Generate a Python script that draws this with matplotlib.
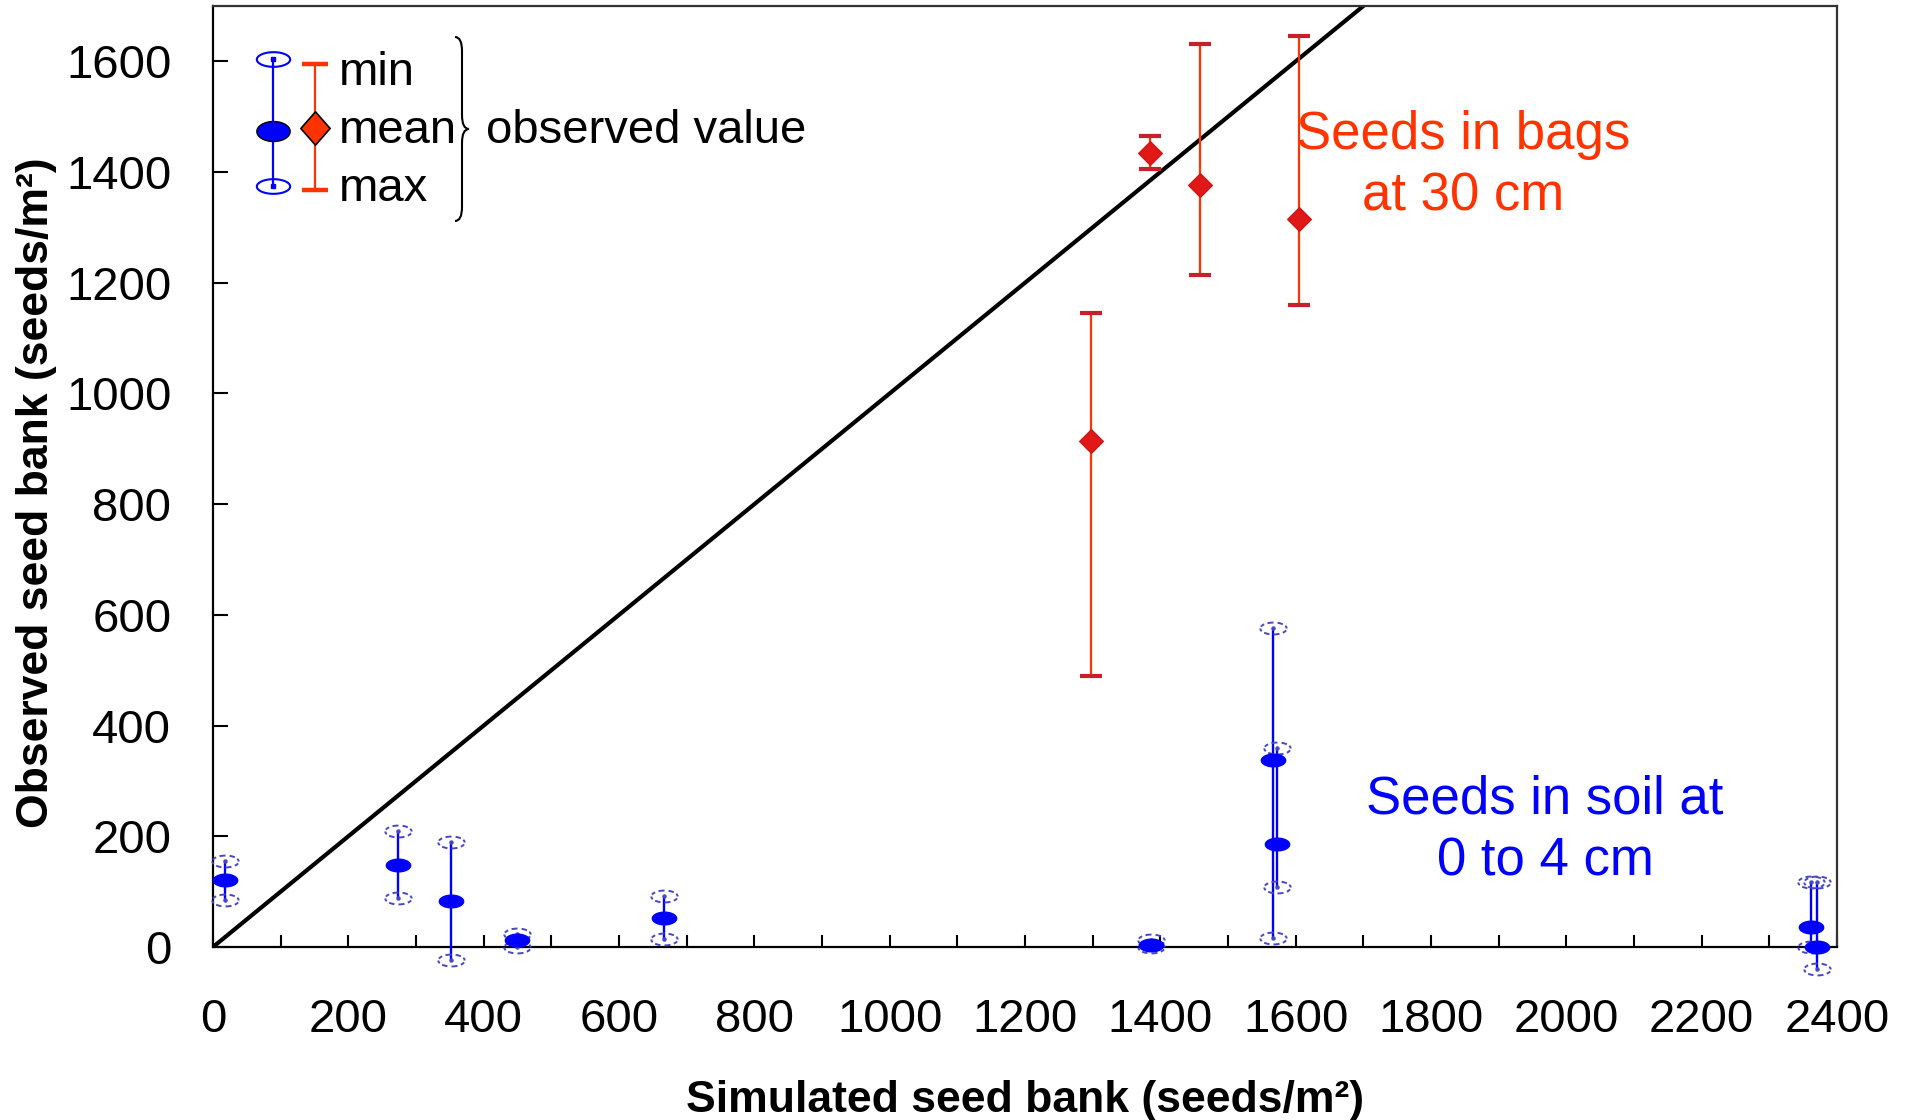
import numpy as np
import matplotlib
matplotlib.use("Agg")
import matplotlib.pyplot as plt
from matplotlib.path import Path
from matplotlib.lines import Line2D
from matplotlib.patches import PathPatch
from matplotlib.ticker import MultipleLocator

plt.rcParams['font.family'] = ['Liberation Sans', 'DejaVu Sans']

# ---- data ----
soil_x = [18, 273, 352, 449, 667, 1386, 1566, 1572, 2362, 2370]
soil_mean = [121, 148, 84, 12, 53, 4, 338, 186, 36, 0]
soil_min = [85, 88, -24, 0, 15, 0, 16, 108, 0, -40]
soil_max = [155, 209, 190, 24, 93, 12, 576, 360, 117, 117]

bag_x = [1298, 1384, 1458, 1605]
bag_mean = [915, 1435, 1377, 1316]
bag_min = [489, 1406, 1214, 1159]
bag_max = [1146, 1466, 1631, 1646]

x_ticks = [0, 200, 400, 600, 800, 1000, 1200, 1400, 1600, 1800, 2000, 2200, 2400]
y_ticks = [0, 200, 400, 600, 800, 1000, 1200, 1400, 1600]

BLUE = '#0000ff'
LBLUE = '#4646c8'
ORANGE = '#ff3300'
DRED = '#c8202a'


# ---- marker paths ----
def ellipse_path(ratio, n=64):
    t = np.linspace(0, 2 * np.pi, n)
    v = np.column_stack([np.cos(t), ratio * np.sin(t)])
    return Path(v, closed=True)


def dashed_ellipse_path(ratio, ndash=8, frac=0.6, n=8):
    verts, codes = [], []
    for k in range(ndash):
        t = np.linspace(2 * np.pi * k / ndash, 2 * np.pi * (k + frac) / ndash, n)
        for i, tt in enumerate(t):
            verts.append((np.cos(tt), ratio * np.sin(tt)))
            codes.append(Path.MOVETO if i == 0 else Path.LINETO)
    return Path(np.array(verts), codes)


def diamond_path(ratio):
    return Path([(0, 1), (ratio, 0), (0, -1), (-ratio, 0), (0, 1)], closed=True)


W, H = 1908, 1120
fig = plt.figure(figsize=(W / 100, H / 100), dpi=100)
ax = fig.add_axes([213 / W, 1 - 947 / H, 1624 / W, 941 / H])
ax.set_xlim(0, 2400)
ax.set_ylim(0, 1700)

# 1:1 line
ax.axline((0, 0), slope=1, color='black', lw=3.0, zorder=2)

# seeds in soil (blue)
ax.vlines(soil_x, soil_min, soil_max, color=BLUE, lw=1.7, zorder=3, clip_on=False)
ax.plot(soil_x, soil_min, ls='none', marker=dashed_ellipse_path(0.45), ms=19,
        mfc='none', mec=LBLUE, mew=1.4, zorder=3, clip_on=False)
ax.plot(soil_x, soil_max, ls='none', marker=dashed_ellipse_path(0.45), ms=19,
        mfc='none', mec=LBLUE, mew=1.4, zorder=3, clip_on=False)
ax.plot(soil_x, soil_min, ls='none', marker='o', ms=2.2, color=LBLUE, zorder=3, clip_on=False)
ax.plot(soil_x, soil_max, ls='none', marker='o', ms=2.2, color=LBLUE, zorder=3, clip_on=False)
ax.plot(soil_x, soil_mean, ls='none', marker=ellipse_path(0.52), ms=17.5,
        color=BLUE, mec=BLUE, zorder=4, clip_on=False)

# seeds in bags (red)
ax.vlines(bag_x, bag_min, bag_max, color=ORANGE, lw=1.6, zorder=3)
ax.plot(bag_x, bag_min, ls='none', marker='_', ms=16, mew=3, color=DRED, zorder=3)
ax.plot(bag_x, bag_max, ls='none', marker='_', ms=16, mew=3, color=DRED, zorder=3)
ax.plot(bag_x, bag_mean, ls='none', marker=diamond_path(1.0), ms=17,
        color='#e01818', mec='#d01515', zorder=4)

# annotations
ax.text(0.7697, 0.830, 'Seeds in bags\nat 30 cm', transform=ax.transAxes,
        ha='center', va='center', multialignment='center', fontsize=38,
        color=ORANGE, linespacing=1.3)
ax.text(0.8202, 0.124, 'Seeds in soil at\n0 to 4 cm', transform=ax.transAxes,
        ha='center', va='center', multialignment='center', fontsize=38,
        color=BLUE, linespacing=1.3)

# axes styling
ax.set_xticks(x_ticks)
ax.set_yticks(y_ticks)
ax.xaxis.set_minor_locator(MultipleLocator(100))
ax.tick_params(axis='x', which='both', direction='in', length=9, width=1.5,
               labelsize=34, pad=37, top=False)
ax.tick_params(axis='y', which='major', direction='in', length=11, width=1.5,
               labelsize=34, pad=30, right=False)
for s in ax.spines.values():
    s.set_linewidth(1.6)
    s.set_color('#333333')
ax.spines['left'].set_color('black')
ax.spines['bottom'].set_color('black')

ax.set_xlabel('Simulated seed bank (seeds/m²)', fontsize=32, fontweight='bold')
ax.set_ylabel('Observed seed bank (seeds/m²)', fontsize=32, fontweight='bold')
ax.xaxis.set_label_coords(0.5, -0.163)
ax.xaxis.label.set_va('center')
ax.yaxis.set_label_coords(-0.1087, 0.4825)
ax.yaxis.label.set_va('center')


# ---- legend (figure pixel coordinates) ----
def fx(px):
    return px / W


def fy(py):
    return 1 - py / H


tf = fig.transFigure
bx, rx = 272.6, 315
fig.add_artist(Line2D([fx(bx), fx(bx)], [fy(59), fy(186)], color=BLUE, lw=1.6, transform=tf))
for yy in (59, 186):
    fig.add_artist(Line2D([fx(bx)], [fy(yy)], ls='none', marker=ellipse_path(0.44), ms=24,
                          mfc='none', mec=BLUE, mew=1.5, transform=tf))
    fig.add_artist(Line2D([fx(bx)], [fy(yy)], ls='none', marker='s', ms=3,
                          color=BLUE, transform=tf))
fig.add_artist(Line2D([fx(bx)], [fy(131)], ls='none', marker=ellipse_path(0.6), ms=24,
                      color=BLUE, mec='black', mew=1.0, transform=tf))

fig.add_artist(Line2D([fx(rx), fx(rx)], [fy(64), fy(190)], color=ORANGE, lw=1.6, transform=tf))
for yy in (64, 190):
    fig.add_artist(Line2D([fx(rx)], [fy(yy)], ls='none', marker='_', ms=19, mew=3.2,
                          color=ORANGE, transform=tf))
fig.add_artist(Line2D([fx(rx)], [fy(128)], ls='none', marker=diamond_path(0.88), ms=24,
                      color=ORANGE, mec='black', mew=1.2, transform=tf))

for label, yy in (('min', 73), ('mean', 131), ('max', 189)):
    fig.text(fx(339), fy(yy), label, fontsize=34, ha='left', va='center')
fig.text(fx(486), fy(131), 'observed value', fontsize=34, ha='left', va='center')

# curly brace
x0, w, r = 455.0, 14.0, 14.0
yt, yb = 37.0, 221.0
ym = (yt + yb) / 2
pts = [(x0, yt), (x0 + w / 2, yt), (x0 + w / 2, yt + r),
       (x0 + w / 2, ym - r), (x0 + w / 2, ym), (x0 + w, ym),
       (x0 + w / 2, ym), (x0 + w / 2, ym + r),
       (x0 + w / 2, yb - r), (x0 + w / 2, yb), (x0, yb)]
codes = [Path.MOVETO, Path.CURVE3, Path.CURVE3, Path.LINETO, Path.CURVE3, Path.CURVE3,
         Path.CURVE3, Path.CURVE3, Path.LINETO, Path.CURVE3, Path.CURVE3]
bp = Path([(fx(a), fy(b)) for a, b in pts], codes)
fig.add_artist(PathPatch(bp, facecolor='none', edgecolor='black', lw=1.5, transform=tf))

fig.savefig('out.png', dpi=100, facecolor='white')
